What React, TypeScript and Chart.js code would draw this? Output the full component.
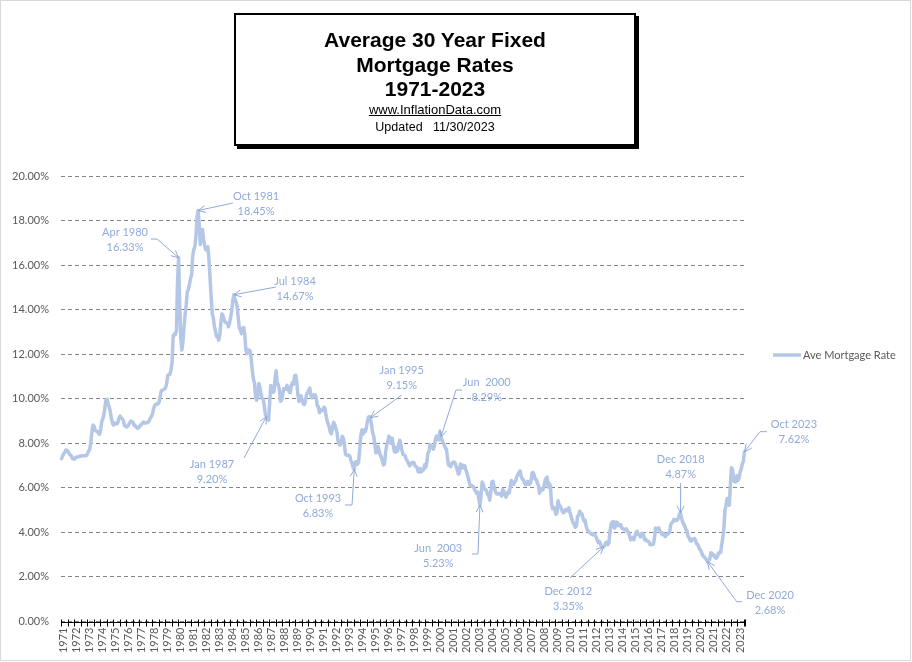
import { useEffect, useRef } from 'react';
import { Chart, registerables } from 'chart.js';

Chart.register(...registerables);

// ---------- DATA (monthly average 30-year fixed rate, %) ----------
const START_YEAR = 1971;
const START_MONTH = 4; // series begins April 1971

const rates1970s = [
  7.31, 7.43, 7.53, 7.6, 7.7, 7.69, 7.63, 7.55, 7.48,
  7.44, 7.32, 7.29, 7.29, 7.37, 7.37, 7.4, 7.4, 7.42, 7.43, 7.44, 7.44,
  7.44, 7.44, 7.46, 7.54, 7.65, 7.73, 8.05, 8.5, 8.82, 8.77, 8.58, 8.54,
  8.54, 8.46, 8.41, 8.58, 8.97, 9.09, 9.28, 9.59, 9.96, 9.98, 9.79, 9.62,
  9.43, 9.1, 8.89, 8.82, 8.91, 8.89, 8.87, 8.94, 9.13, 9.22, 9.15, 9.1,
  9.02, 8.81, 8.76, 8.73, 8.76, 8.85, 8.93, 9.0, 8.98, 8.92, 8.81, 8.79,
  8.72, 8.67, 8.69, 8.75, 8.83, 8.86, 8.94, 8.94, 8.9, 8.92, 8.92, 8.96,
  9.02, 9.15, 9.2, 9.35, 9.57, 9.71, 9.74, 9.78, 9.76, 9.86, 10.11, 10.35,
  10.39, 10.41, 10.43, 10.5, 10.69, 11.04, 11.09, 11.09, 11.3, 11.64, 12.83, 12.9,
];
const rates1980s = [
  12.88, 13.04, 15.28, 16.33, 14.26, 12.71, 12.19, 12.56, 13.2, 13.79, 14.21, 14.79,
  14.9, 15.13, 15.4, 15.58, 16.4, 16.7, 16.83, 17.29, 18.16, 18.45, 17.83, 16.92,
  17.4, 17.6, 17.16, 16.89, 16.68, 16.7, 16.82, 16.27, 15.43, 14.61, 13.83, 13.62,
  13.25, 13.04, 12.8, 12.78, 12.63, 12.87, 13.42, 13.81, 13.73, 13.54, 13.44, 13.42,
  13.37, 13.23, 13.39, 13.65, 13.94, 14.42, 14.67, 14.47, 14.35, 14.13, 13.64, 13.18,
  13.08, 12.92, 13.17, 13.2, 12.91, 12.22, 12.03, 12.19, 12.19, 12.14, 11.78, 11.26,
  10.88, 10.71, 10.08, 9.94, 10.14, 10.68, 10.51, 10.2, 10.01, 9.98, 9.7, 9.32,
  9.2, 9.08, 9.04, 9.83, 10.6, 10.54, 10.28, 10.33, 10.89, 11.26, 10.65, 10.64,
  10.38, 9.89, 9.93, 10.2, 10.46, 10.46, 10.43, 10.6, 10.48, 10.3, 10.27, 10.61,
  10.73, 10.65, 11.03, 11.05, 10.77, 10.2, 9.88, 9.99, 10.13, 9.95, 9.77, 9.74,
];
const rates1990s = [
  9.9, 10.2, 10.27, 10.37, 10.48, 10.16, 10.04, 10.1, 10.18, 10.18, 10.01, 9.67,
  9.64, 9.37, 9.5, 9.49, 9.47, 9.62, 9.58, 9.24, 9.01, 8.86, 8.71, 8.5,
  8.43, 8.76, 8.94, 8.85, 8.67, 8.51, 8.13, 7.98, 7.92, 8.09, 8.31, 8.22,
  7.92, 7.5, 7.46, 7.46, 7.47, 7.42, 7.21, 7.11, 6.91, 6.83, 7.16, 7.17,
  7.06, 7.15, 7.68, 8.32, 8.6, 8.4, 8.61, 8.51, 8.64, 8.93, 9.17, 9.2,
  9.15, 8.83, 8.46, 8.32, 7.96, 7.57, 7.61, 7.86, 7.64, 7.48, 7.38, 7.2,
  7.03, 7.08, 7.62, 7.93, 8.07, 8.32, 8.25, 8.0, 8.23, 7.92, 7.62, 7.6,
  7.82, 7.65, 7.9, 8.14, 7.94, 7.69, 7.5, 7.48, 7.43, 7.29, 7.21, 7.1,
  6.99, 7.04, 7.13, 7.14, 7.14, 7.0, 6.95, 6.92, 6.72, 6.71, 6.87, 6.72,
  6.79, 6.81, 7.04, 6.92, 7.15, 7.55, 7.63, 7.94, 7.82, 7.85, 7.74, 7.91,
];
const rates2000s = [
  8.21, 8.33, 8.24, 8.15, 8.52, 8.29, 8.15, 8.03, 7.91, 7.8, 7.75, 7.38,
  7.03, 7.05, 6.95, 7.08, 7.15, 7.16, 7.13, 6.95, 6.82, 6.62, 6.66, 7.07,
  7.0, 6.89, 7.01, 6.99, 6.81, 6.65, 6.49, 6.29, 6.09, 6.11, 6.07, 6.05,
  5.92, 5.84, 5.75, 5.81, 5.48, 5.23, 5.63, 6.26, 6.15, 5.95, 5.93, 5.88,
  5.71, 5.64, 5.45, 5.83, 6.27, 6.29, 6.06, 5.87, 5.75, 5.72, 5.73, 5.75,
  5.71, 5.63, 5.93, 5.86, 5.72, 5.58, 5.7, 5.82, 5.77, 6.07, 6.33, 6.27,
  6.15, 6.25, 6.32, 6.51, 6.6, 6.68, 6.76, 6.52, 6.4, 6.36, 6.24, 6.14,
  6.22, 6.29, 6.16, 6.18, 6.26, 6.66, 6.7, 6.57, 6.38, 6.38, 6.21, 6.1,
  5.76, 5.92, 5.97, 5.92, 6.04, 6.32, 6.43, 6.48, 6.04, 6.2, 6.09, 5.29,
  5.06, 5.13, 5.0, 4.81, 4.86, 5.42, 5.22, 5.19, 5.06, 4.95, 4.88, 4.93,
];
const rates2010s = [
  5.03, 4.99, 4.97, 5.1, 4.89, 4.74, 4.56, 4.43, 4.35, 4.23, 4.3, 4.71,
  4.76, 4.95, 4.84, 4.84, 4.64, 4.51, 4.55, 4.27, 4.11, 4.07, 3.99, 3.96,
  3.92, 3.89, 3.95, 3.91, 3.8, 3.68, 3.55, 3.6, 3.5, 3.38, 3.35, 3.35,
  3.41, 3.53, 3.57, 3.45, 3.54, 4.07, 4.37, 4.46, 4.49, 4.19, 4.26, 4.46,
  4.43, 4.3, 4.34, 4.34, 4.19, 4.16, 4.13, 4.12, 4.16, 4.04, 4.0, 3.86,
  3.67, 3.71, 3.77, 3.67, 3.84, 3.98, 4.05, 3.91, 3.89, 3.8, 3.94, 3.96,
  3.87, 3.66, 3.69, 3.61, 3.6, 3.57, 3.44, 3.44, 3.46, 3.47, 3.77, 4.2,
  4.15, 4.17, 4.2, 4.05, 4.01, 3.9, 3.97, 3.88, 3.81, 3.9, 3.92, 3.95,
  4.03, 4.33, 4.44, 4.47, 4.59, 4.57, 4.53, 4.55, 4.63, 4.83, 4.87, 4.64,
  4.46, 4.37, 4.27, 4.14, 4.07, 3.8, 3.77, 3.62, 3.61, 3.69, 3.7, 3.72,
];
const rates2020s = [
  3.62, 3.47, 3.45, 3.31, 3.23, 3.16, 3.02, 2.94, 2.89, 2.83, 2.77, 2.68,
  2.74, 2.81, 3.08, 3.06, 2.96, 2.98, 2.87, 2.84, 2.9, 3.07, 3.07, 3.1,
  3.45, 3.76, 4.17, 4.98, 5.23, 5.52, 5.41, 5.22, 6.11, 6.9, 6.81, 6.36,
  6.27, 6.26, 6.54, 6.34, 6.43, 6.71, 6.84, 7.07, 7.2, 7.62,
];

const rates = [...rates1970s, ...rates1980s, ...rates1990s, ...rates2000s, ...rates2010s, ...rates2020s];

// categories "YYYY-MM"
const monthLabels: string[] = rates.map((_, i) => {
  const m = START_MONTH - 1 + i;
  const y = START_YEAR + Math.floor(m / 12);
  return `${y}-${String((m % 12) + 1).padStart(2, '0')}`;
});

const Y_MIN = 0;
const Y_MAX = 20;
const Y_STEP = 2;

const SERIES_NAME = 'Ave Mortgage Rate';
const TITLE_LINES = ['Average 30 Year Fixed', 'Mortgage Rates', '1971-2023'];
const SITE = 'www.InflationData.com';
const UPDATED = 'Updated   11/30/2023';

const annotationKeys = ['1980-04', '1981-10', '1984-07', '1987-01', '1993-10', '1995-01', '2000-06', '2003-06', '2012-12', '2018-11', '2020-12', '2023-10'];
const annotationTitles = ['Apr 1980', 'Oct 1981', 'Jul 1984', 'Jan 1987', 'Oct 1993', 'Jan 1995', 'Jun  2000', 'Jun  2003', 'Dec 2012', 'Dec 2018', 'Dec 2020', 'Oct 2023'];

// ---------- STYLE / LAYOUT ----------
const LINE_COLOR = '#B4C7E7';
const NOTE_COLOR = '#8FAADC';
const AXIS_TEXT = '#595959';
const FONT = 'Lato, "Noto Sans", sans-serif';

// offsets relative to the annotated point: t = text centre (first line), s = leader start, e = optional elbow
const NOTE_GEOM: { t: [number, number]; s: [number, number]; e?: [number, number] }[] = [
  { t: [-53.6, -25.7], s: [-27.6, -18.7], e: [-21.6, -18.7] },
  { t: [57.9, -14.5], s: [34.9, -7.5] },
  { t: [61.1, -13.7], s: [42.1, -7.7] },
  { t: [-54.4, 47.4], s: [-22.4, 41.4] },
  { t: [-36.2, 28.6], s: [-9.2, 35.6], e: [-2.2, 35.6] },
  { t: [31.2, -47.7], s: [31.2, -22.7] },
  { t: [45.8, -54.1], s: [21.1, -46.8], e: [15.1, -46.8] },
  { t: [-41.7, 43.3], s: [-8, 49], e: [-2, 49] },
  { t: [-35.2, 44.1], s: [-33.5, 31.1] },
  { t: [0.2, -53.7], s: [0.2, -30] },
  { t: [62.4, 33.2], s: [34.4, 39.9], e: [29.1, 39.9] },
  { t: [49.5, -27.8], s: [22.5, -20.1], e: [15.5, -20.1] },
];

const overlayPlugin = {
  id: 'overlay',
  afterDatasetsDraw(chart: any) {
    const { ctx, chartArea, scales } = chart;
    const xs = scales.x;
    const ys = scales.y;
    ctx.save();

    // outer frame
    ctx.strokeStyle = '#D9D9D9';
    ctx.lineWidth = 1;
    ctx.strokeRect(0.5, 0.5, 910, 660);

    // category axis line with crossing tick marks every 6 months
    const y0 = Math.round(ys.getPixelForValue(0)) + 0.5;
    ctx.strokeStyle = '#000';
    ctx.lineWidth = 1;
    ctx.beginPath();
    ctx.moveTo(chartArea.left, y0);
    ctx.lineTo(chartArea.right, y0);
    const half = (xs.getPixelForValue(1) - xs.getPixelForValue(0)) / 2;
    const marks: number[] = [];
    for (let i = 0; i < rates.length; i += 6) marks.push(xs.getPixelForValue(i) - half);
    marks.push(xs.getPixelForValue(rates.length - 1) + half);
    for (const mx of marks) {
      const x = Math.round(mx) + 0.5;
      ctx.moveTo(x, y0 - 3);
      ctx.lineTo(x, y0 + 4);
    }
    ctx.stroke();

    // annotations
    ctx.font = `11px ${FONT}`;
    ctx.textAlign = 'center';
    ctx.textBaseline = 'middle';
    annotationKeys.forEach((key, k) => {
      const idx = monthLabels.indexOf(key);
      if (idx < 0) return;
      const v = rates[idx];
      const px = xs.getPixelForValue(idx);
      const py = ys.getPixelForValue(v);
      const g = NOTE_GEOM[k];
      ctx.fillStyle = NOTE_COLOR;
      ctx.fillText(annotationTitles[k], px + g.t[0], py + g.t[1]);
      ctx.fillText(v.toFixed(2) + '%', px + g.t[0], py + g.t[1] + 15);
      ctx.strokeStyle = NOTE_COLOR;
      ctx.lineWidth = 1;
      ctx.beginPath();
      ctx.moveTo(px + g.s[0], py + g.s[1]);
      let fx = px + g.s[0];
      let fy = py + g.s[1];
      if (g.e) {
        ctx.lineTo(px + g.e[0], py + g.e[1]);
        fx = px + g.e[0];
        fy = py + g.e[1];
      }
      ctx.lineTo(px, py);
      ctx.stroke();
      const ang = Math.atan2(py - fy, px - fx);
      const L = 8;
      const A = 0.45;
      ctx.beginPath();
      ctx.moveTo(px - L * Math.cos(ang - A), py - L * Math.sin(ang - A));
      ctx.lineTo(px, py);
      ctx.lineTo(px - L * Math.cos(ang + A), py - L * Math.sin(ang + A));
      ctx.stroke();
    });

    // legend
    const lx = chartArea.right + 28;
    const ly = 355;
    ctx.strokeStyle = LINE_COLOR;
    ctx.lineWidth = 3.5;
    ctx.beginPath();
    ctx.moveTo(lx, ly);
    ctx.lineTo(lx + 28, ly);
    ctx.stroke();
    ctx.fillStyle = AXIS_TEXT;
    ctx.textAlign = 'left';
    ctx.font = `11px ${FONT}`;
    ctx.fillText(SERIES_NAME, lx + 30, ly);

    ctx.restore();
  },
};

export default function App() {
  const ref = useRef<HTMLCanvasElement>(null);

  useEffect(() => {
    const canvas = ref.current;
    if (!canvas) return;
    const chart = new Chart(canvas, {
      type: 'line',
      data: {
        labels: monthLabels,
        datasets: [
          {
            label: SERIES_NAME,
            data: rates,
            borderColor: LINE_COLOR,
            backgroundColor: LINE_COLOR,
            borderWidth: 3.5,
            pointRadius: 0,
            tension: 0,
            borderJoinStyle: 'round',
            borderCapStyle: 'round',
          },
        ],
      },
      options: {
        animation: false,
        responsive: false,
        maintainAspectRatio: false,
        devicePixelRatio: 1,
        layout: { padding: { top: 176, right: 167, left: 0, bottom: 0 } },
        plugins: {
          legend: { display: false },
          tooltip: { enabled: false },
          title: { display: false },
        },
        scales: {
          x: {
            type: 'category',
            offset: true,
            grid: { display: false, drawTicks: false, offset: true },
            border: { display: false },
            ticks: {
              autoSkip: false,
              minRotation: 90,
              maxRotation: 90,
              padding: 6,
              labelOffset: 2,
              color: AXIS_TEXT,
              font: { family: FONT, size: 11 },
              callback: (_v: any, i: number) => (i % 12 === 0 ? monthLabels[i].slice(0, 4) : ''),
            },
            afterFit: (s: any) => {
              s.height = 40.5;
              s.paddingLeft = 0;
              s.paddingRight = 0;
            },
          },
          y: {
            min: Y_MIN,
            max: Y_MAX,
            grid: { color: '#868686', drawTicks: false, lineWidth: 1 },
            border: { display: false, dash: [4, 3] },
            ticks: {
              stepSize: Y_STEP,
              padding: 12,
              color: AXIS_TEXT,
              font: { family: FONT, size: 11 },
              callback: (v: any) => Number(v).toFixed(2) + '%',
            },
            afterFit: (s: any) => {
              s.width = 61;
              s.paddingTop = 0;
              s.paddingBottom = 0;
            },
          },
        },
      },
      plugins: [overlayPlugin],
    } as any);
    return () => chart.destroy();
  }, []);

  const lineStyle = (top: number, size: number, bold: boolean): any => ({
    position: 'absolute',
    left: 0,
    right: 0,
    top,
    textAlign: 'center',
    fontSize: size,
    lineHeight: `${size}px`,
    fontWeight: bold ? 700 : 400,
    whiteSpace: 'pre',
  });

  return (
    <div style={{ position: 'fixed', left: 0, top: 0, width: 912, height: 662, background: '#fff', overflow: 'hidden' }}>
      <canvas ref={ref} width={912} height={662} style={{ position: 'absolute', left: 0, top: 0, width: 912, height: 662 }} />
      <div
        style={{
          position: 'absolute',
          left: 234,
          top: 13,
          width: 398,
          height: 129,
          border: '2px solid #000',
          boxShadow: '3px 3px 0 #000',
          background: '#fff',
          color: '#000',
          fontFamily: '"Liberation Sans", Arial, sans-serif',
        }}
      >
        <div style={lineStyle(14.2, 21, true)}>{TITLE_LINES[0]}</div>
        <div style={lineStyle(39.2, 21, true)}>{TITLE_LINES[1]}</div>
        <div style={lineStyle(63.2, 21, true)}>{TITLE_LINES[2]}</div>
        <div style={{ ...lineStyle(88, 13, false), textDecoration: 'underline' }}>{SITE}</div>
        <div style={lineStyle(105.5, 12.5, false)}>{UPDATED}</div>
      </div>
    </div>
  );
}
